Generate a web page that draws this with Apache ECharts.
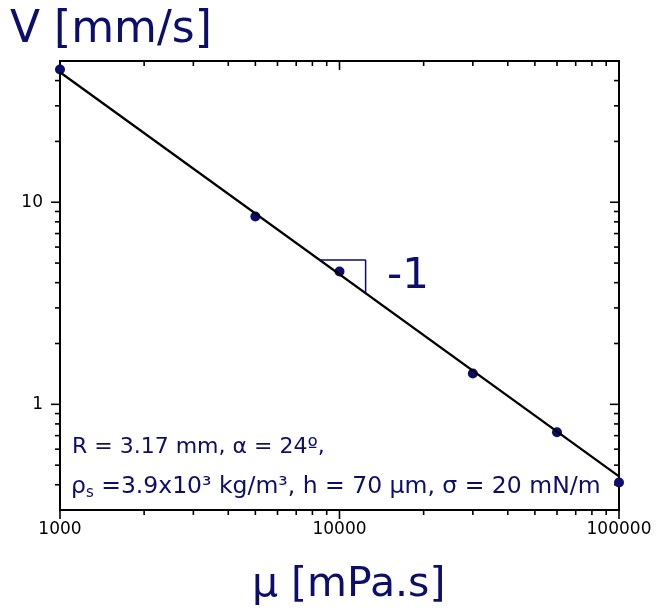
<!DOCTYPE html>
<html>
<head>
<meta charset="utf-8">
<script src="https://cdn.jsdelivr.net/npm/echarts@6/dist/echarts.min.js"></script>
<style>
  html, body { margin: 0; padding: 0; background: #fff; }
  #chart { width: 658px; height: 614px; }
</style>
</head>
<body>
<div id="chart"></div>
<script>
// data
var viscosity = [1000, 5000, 10000, 30000, 60000, 100000];   // mPa.s
var velocity  = [45.4, 8.5, 4.54, 1.42, 0.727, 0.41];        // mm/s
var fitLine   = [[1000, 44], [100000, 0.44]];                 // slope -1
var slopeTri  = [[8500, 5.18], [12400, 5.18], [12400, 3.55]];

var X_MIN = 1000, X_MAX = 100000;
var Y_MIN = 0.3, Y_MAX = 50;
var xMajor = [1000, 10000, 100000];
var xMinor = [2000, 3000, 4000, 5000, 6000, 7000, 8000, 9000,
              20000, 30000, 40000, 50000, 60000, 70000, 80000, 90000];
var yMajor = [1, 10];
var yMinor = [0.4, 0.5, 0.6, 0.7, 0.8, 0.9, 2, 3, 4, 5, 6, 7, 8, 9, 20, 30, 40];

var navy = '#0d0d6d';
var font = 'DejaVu Sans';

var myChart = echarts.init(document.getElementById('chart'));

function isPow10(v) {
    var l = Math.log(v) / Math.LN10;
    return Math.abs(l - Math.round(l)) < 1e-6;
}

var xTickData = xMajor.map(function (v) { return [v, Y_MIN, 1]; })
    .concat(xMinor.map(function (v) { return [v, Y_MIN, 0]; }));
var yTickData = yMajor.map(function (v) { return [X_MIN, v, 1]; })
    .concat(yMinor.map(function (v) { return [X_MIN, v, 0]; }));

var tickStyle = { stroke: '#000', lineWidth: 1.6 };

var option = {
    backgroundColor: '#fff',
    animation: false,
    grid: {
        left: 60, right: 39, top: 61, bottom: 104,
        containLabel: false, outerBoundsMode: 'none',
        show: true, borderColor: '#000', borderWidth: 2, backgroundColor: 'transparent'
    },
    xAxis: {
        type: 'log', min: X_MIN, max: X_MAX,
        axisLine: { show: false },
        axisTick: { show: false },
        splitLine: { show: false },
        axisLabel: {
            margin: 11, color: '#000', fontSize: 17, fontFamily: font,
            showMinLabel: true, showMaxLabel: true,
            formatter: function (v) { return isPow10(v) ? String(Math.round(v)) : ''; }
        }
    },
    yAxis: {
        type: 'log', min: Y_MIN, max: Y_MAX,
        axisLine: { show: false },
        axisTick: { show: false },
        splitLine: { show: false },
        axisLabel: {
            margin: 17, color: '#000', fontSize: 17, fontFamily: font,
            formatter: function (v) { return isPow10(v) ? String(Math.round(v)) : ''; }
        }
    },
    series: [
        {   // x ticks: bottom outward, top inward (both point down)
            type: 'custom', clip: false, silent: true,
            data: xTickData, encode: { x: 0, y: 1 },
            renderItem: function (params, api) {
                var x = api.value(0), len = api.value(2) ? 9 : 5;
                var b = api.coord([x, Y_MIN]);
                var t = api.coord([x, Y_MAX]);
                return { type: 'group', children: [
                    { type: 'line', shape: { x1: b[0], y1: b[1], x2: b[0], y2: b[1] + len }, style: tickStyle },
                    { type: 'line', shape: { x1: t[0], y1: t[1], x2: t[0], y2: t[1] + len }, style: tickStyle }
                ] };
            }
        },
        {   // y ticks: left outward, right inward (both point left)
            type: 'custom', clip: false, silent: true,
            data: yTickData, encode: { x: 0, y: 1 },
            renderItem: function (params, api) {
                var y = api.value(1), len = api.value(2) ? 9 : 5;
                var l = api.coord([X_MIN, y]);
                var r = api.coord([X_MAX, y]);
                return { type: 'group', children: [
                    { type: 'line', shape: { x1: l[0] - len, y1: l[1], x2: l[0], y2: l[1] }, style: tickStyle },
                    { type: 'line', shape: { x1: r[0] - len, y1: r[1], x2: r[0], y2: r[1] }, style: tickStyle }
                ] };
            }
        },
        {
            type: 'line', data: fitLine, showSymbol: false, symbol: 'none',
            lineStyle: { color: '#000', width: 2.3 }, silent: true
        },
        {
            type: 'line', data: slopeTri, showSymbol: false, symbol: 'none',
            lineStyle: { color: navy, width: 1.5 }, silent: true
        },
        {
            type: 'scatter', clip: false,
            data: viscosity.map(function (v, i) { return [v, velocity[i]]; }),
            symbol: 'circle', symbolSize: 10,
            itemStyle: { color: navy, opacity: 1 }
        }
    ],
    graphic: [
        { type: 'text', left: 10, top: 9,
          style: { text: 'V [mm/s]', font: '44px "DejaVu Sans"', fill: navy } },
        { type: 'text', left: 252, top: 565,
          style: { text: '\u03bc [mPa.s]', font: '41px "DejaVu Sans"', fill: navy } },
        { type: 'text', left: 387, top: 256,
          style: { text: '-1', font: '42px "DejaVu Sans"', fill: navy } },
        { type: 'text', left: 72, top: 436,
          style: { text: 'R = 3.17 mm, \u03b1 = 24\u00ba,', font: '22px "DejaVu Sans"', fill: navy } },
        { type: 'text', left: 71, top: 475,
          style: {
              text: '{n|\u03c1}{s|s}{n| =3.9x10\u00b3 kg/m\u00b3, h = 70 \u03bcm, \u03c3 = 20 mN/m}',
              rich: {
                  n: { fontSize: 23.5, fontFamily: font, fill: navy, lineHeight: 28 },
                  s: { fontSize: 15, fontFamily: font, fill: navy, lineHeight: 15, verticalAlign: 'bottom' }
              }
          } }
    ]
};

myChart.setOption(option);
</script>
</body>
</html>
